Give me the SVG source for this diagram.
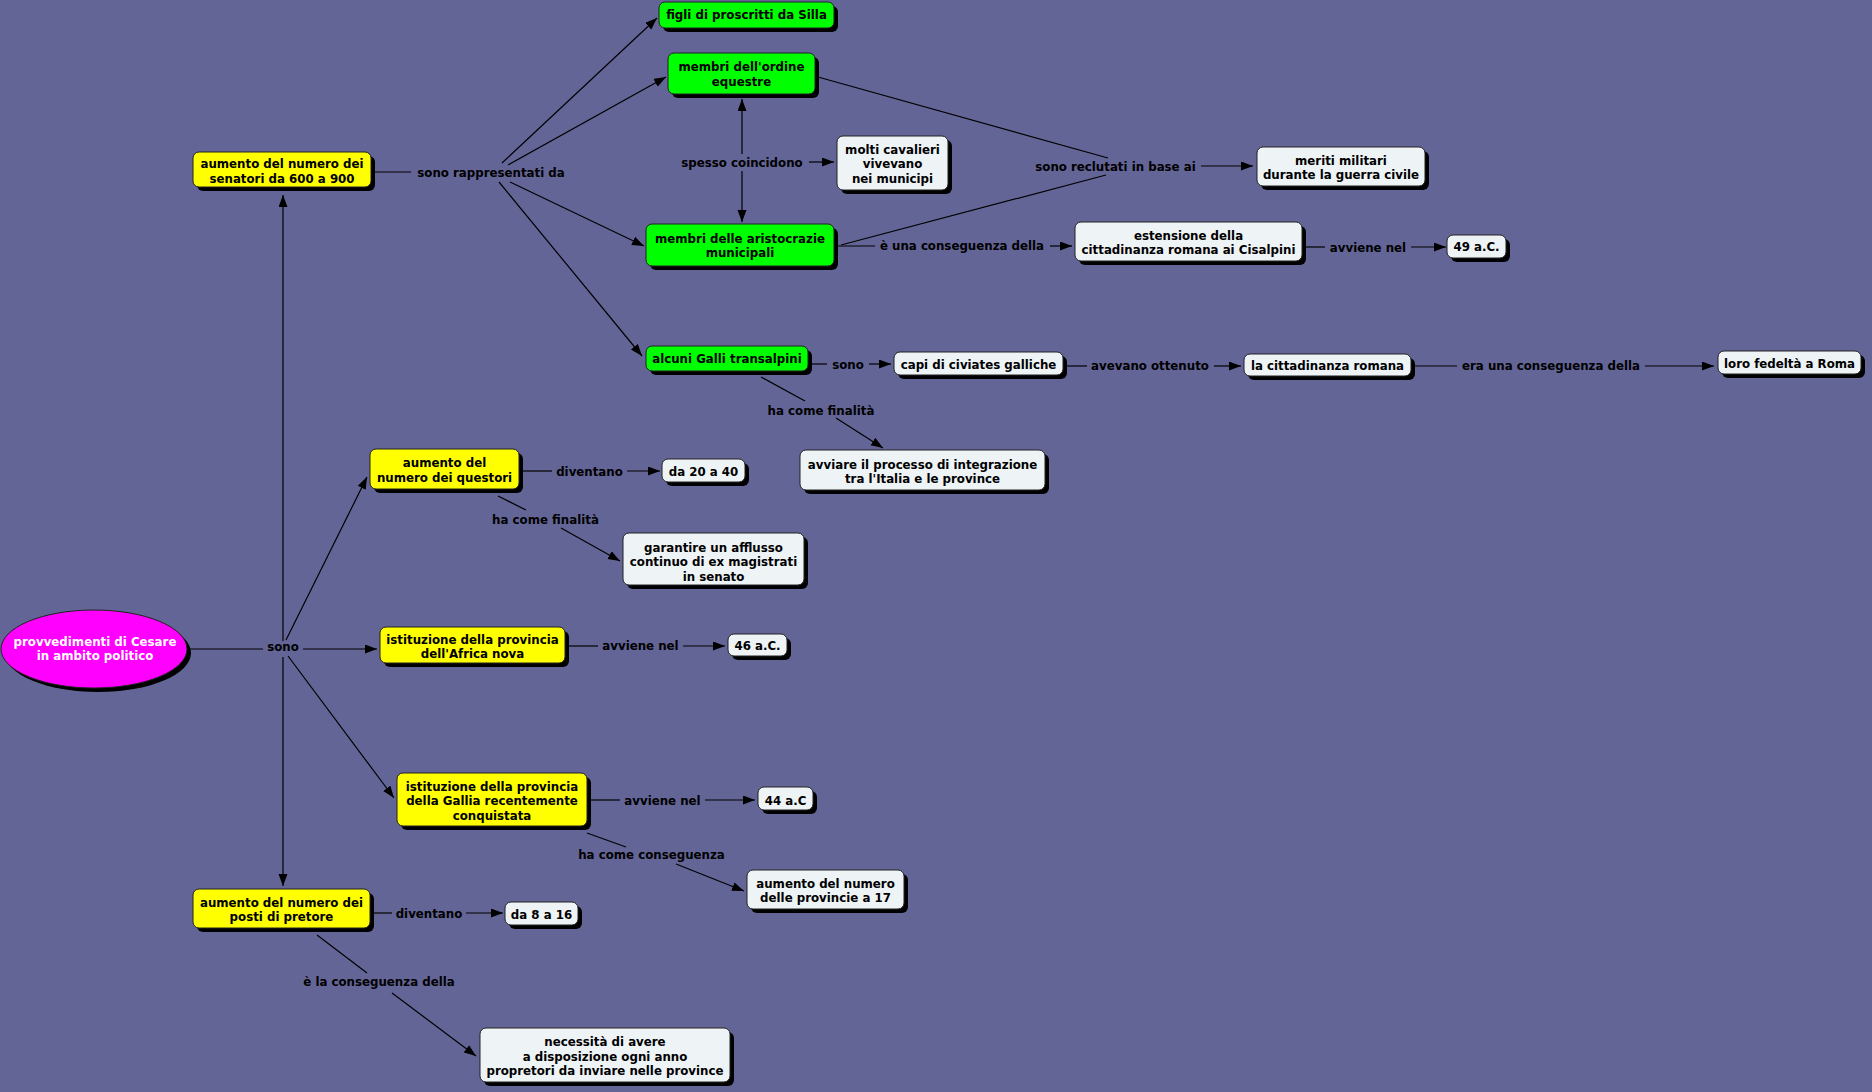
<svg xmlns="http://www.w3.org/2000/svg" width="1872" height="1092" viewBox="0 0 1872 1092">
<defs>
<style>
.bg{fill:#646597}
.sh{fill:#000}
.g{fill:#00ff00;stroke:#222;stroke-width:1}
.y{fill:#ffff00;stroke:#222;stroke-width:1}
.w{fill:#eef3f6;stroke:#222;stroke-width:1}
.m{fill:#ff00ff;stroke:#222;stroke-width:1}
text{font-family:"DejaVu Sans","Verdana",sans-serif;font-weight:bold;font-size:11.8px;fill:#000;text-anchor:middle}
.wt{fill:#fff}
.c line{stroke:#000;stroke-width:1.2;fill:none}
.a{marker-end:url(#ah)}
</style>
<marker id="ah" markerUnits="userSpaceOnUse" markerWidth="13" markerHeight="10" refX="12" refY="4.5" orient="auto" viewBox="0 0 13 10">
<path d="M0,0 L12,4.5 L0,9 z" fill="#000"/>
</marker>
</defs>
<rect class="bg" x="0" y="0" width="1872" height="1092"/>

<g id="connectors" class="c">
<line x1="190" y1="649" x2="263" y2="649"/>
<line class="a" x1="283" y1="641" x2="283" y2="195"/>
<line class="a" x1="283" y1="657" x2="283" y2="886"/>
<line class="a" x1="286" y1="640" x2="367" y2="477"/>
<line class="a" x1="303" y1="649" x2="377" y2="649"/>
<line class="a" x1="288" y1="656" x2="394" y2="798"/>
<line x1="375" y1="172" x2="411" y2="172"/>
<line class="a" x1="502" y1="163" x2="657" y2="18"/>
<line class="a" x1="508" y1="165" x2="666" y2="77"/>
<line class="a" x1="510" y1="182" x2="644" y2="246"/>
<line class="a" x1="499" y1="182" x2="642" y2="356"/>
<line class="a" x1="742" y1="154" x2="742" y2="99"/>
<line class="a" x1="742" y1="171" x2="742" y2="222"/>
<line class="a" x1="809" y1="162" x2="834" y2="162"/>
<line x1="818" y1="77" x2="1108" y2="158"/>
<line x1="841" y1="245" x2="1106" y2="175"/>
<line class="a" x1="1201" y1="166" x2="1253" y2="166"/>
<line x1="838" y1="246" x2="875" y2="246"/>
<line class="a" x1="1050" y1="246" x2="1072" y2="246"/>
<line x1="1305" y1="247" x2="1325" y2="247"/>
<line class="a" x1="1411" y1="247" x2="1446" y2="247"/>
<line x1="812" y1="364" x2="827" y2="364"/>
<line class="a" x1="869" y1="364" x2="891" y2="364"/>
<line x1="1066" y1="366" x2="1087" y2="366"/>
<line class="a" x1="1214" y1="366" x2="1241" y2="366"/>
<line x1="1415" y1="366" x2="1457" y2="366"/>
<line class="a" x1="1645" y1="366" x2="1714" y2="366"/>
<line x1="761" y1="377" x2="805" y2="401"/>
<line class="a" x1="836" y1="418" x2="883" y2="448"/>
<line x1="522" y1="471" x2="552" y2="471"/>
<line class="a" x1="627" y1="471" x2="660" y2="471"/>
<line x1="498" y1="496" x2="526" y2="510"/>
<line class="a" x1="561" y1="528" x2="620" y2="561"/>
<line x1="568" y1="646" x2="598" y2="646"/>
<line class="a" x1="683" y1="646" x2="725" y2="646"/>
<line x1="590" y1="800" x2="620" y2="800"/>
<line class="a" x1="705" y1="800" x2="755" y2="800"/>
<line x1="587" y1="833" x2="626" y2="847"/>
<line class="a" x1="676" y1="864" x2="744" y2="891"/>
<line x1="373" y1="913" x2="392" y2="913"/>
<line class="a" x1="466" y1="913" x2="503" y2="913"/>
<line x1="317" y1="935" x2="367" y2="973"/>
<line class="a" x1="392" y1="993" x2="476" y2="1056"/>
</g>

<g id="labels">
<text x="491" y="176.5">sono rappresentati da</text>
<text x="742" y="166.5">spesso coincidono</text>
<text x="1115.5" y="170.5">sono reclutati in base ai</text>
<text x="962" y="250">è una conseguenza della</text>
<text x="1368" y="251.5">avviene nel</text>
<text x="848" y="368.5">sono</text>
<text x="1150" y="370">avevano ottenuto</text>
<text x="1551" y="369.5">era una conseguenza della</text>
<text x="821" y="414.5">ha come finalità</text>
<text x="589.5" y="475.5">diventano</text>
<text x="545.5" y="523.5">ha come finalità</text>
<text x="283" y="650.5">sono</text>
<text x="640.5" y="649.5">avviene nel</text>
<text x="662.5" y="804.5">avviene nel</text>
<text x="651.5" y="858.5">ha come conseguenza</text>
<text x="429" y="917.5">diventano</text>
<text x="379" y="986">è la conseguenza della</text>
</g>

<g id="n-root">
<ellipse class="sh" cx="98" cy="653" rx="93" ry="39"/>
<ellipse class="m" cx="94" cy="649" rx="93" ry="39"/>
<text class="wt" x="95" y="646">provvedimenti di Cesare</text>
<text class="wt" x="95" y="660">in ambito politico</text>
</g>

<g id="n-figli">
<rect class="sh" x="663" y="6" width="175" height="26" rx="6"/>
<rect class="g" x="659" y="2" width="175" height="26" rx="6"/>
<text x="746.5" y="19">figli di proscritti da Silla</text>
</g>

<g id="n-ordine">
<rect class="sh" x="672" y="57" width="147" height="41" rx="6"/>
<rect class="g" x="668" y="53" width="147" height="41" rx="6"/>
<text x="741.5" y="71">membri dell'ordine</text>
<text x="741.5" y="85.5">equestre</text>
</g>

<g id="n-senatori">
<rect class="sh" x="197" y="156" width="178" height="35" rx="6"/>
<rect class="y" x="193" y="152" width="178" height="35" rx="6"/>
<text x="282" y="168">aumento del numero dei</text>
<text x="282" y="182.5">senatori da 600 a 900</text>
</g>

<g id="n-cavalieri">
<rect class="sh" x="841" y="140" width="111" height="54" rx="6"/>
<rect class="w" x="837" y="136" width="111" height="54" rx="6"/>
<text x="892.5" y="153.5">molti cavalieri</text>
<text x="892.5" y="168">vivevano</text>
<text x="892.5" y="182.5">nei municipi</text>
</g>

<g id="n-aristocrazie">
<rect class="sh" x="650" y="228" width="188" height="42" rx="6"/>
<rect class="g" x="646" y="224" width="188" height="42" rx="6"/>
<text x="740" y="242.5">membri delle aristocrazie</text>
<text x="740" y="257">municipali</text>
</g>

<g id="n-galli">
<rect class="sh" x="650" y="350" width="162" height="25" rx="6"/>
<rect class="g" x="646" y="346" width="162" height="25" rx="6"/>
<text x="727" y="362.5">alcuni Galli transalpini</text>
</g>

<g id="n-meriti">
<rect class="sh" x="1261" y="151" width="168" height="39" rx="6"/>
<rect class="w" x="1257" y="147" width="168" height="39" rx="6"/>
<text x="1341" y="164.5">meriti militari</text>
<text x="1341" y="179">durante la guerra civile</text>
</g>

<g id="n-estensione">
<rect class="sh" x="1079" y="226" width="227" height="39" rx="6"/>
<rect class="w" x="1075" y="222" width="227" height="39" rx="6"/>
<text x="1188.5" y="239.5">estensione della</text>
<text x="1188.5" y="254">cittadinanza romana ai Cisalpini</text>
</g>

<g id="n-49">
<rect class="sh" x="1451" y="239" width="59" height="23" rx="6"/>
<rect class="w" x="1447" y="235" width="59" height="23" rx="6"/>
<text x="1476.5" y="251">49 a.C.</text>
</g>

<g id="n-capi">
<rect class="sh" x="898" y="356" width="169" height="23" rx="6"/>
<rect class="w" x="894" y="352" width="169" height="23" rx="6"/>
<text x="978.5" y="368.5">capi di civiates galliche</text>
</g>

<g id="n-cittadinanza">
<rect class="sh" x="1248" y="358" width="167" height="22" rx="6"/>
<rect class="w" x="1244" y="354" width="167" height="22" rx="6"/>
<text x="1327.5" y="370">la cittadinanza romana</text>
</g>

<g id="n-fedelta">
<rect class="sh" x="1722" y="355" width="143" height="23" rx="6"/>
<rect class="w" x="1718" y="351" width="143" height="23" rx="6"/>
<text x="1789.5" y="367.5">loro fedeltà a Roma</text>
</g>

<g id="n-avviare">
<rect class="sh" x="804" y="454" width="245" height="40" rx="6"/>
<rect class="w" x="800" y="450" width="245" height="40" rx="6"/>
<text x="922.5" y="468.5">avviare il processo di integrazione</text>
<text x="922.5" y="483">tra l'Italia e le province</text>
</g>

<g id="n-questori">
<rect class="sh" x="374" y="453" width="149" height="40" rx="6"/>
<rect class="y" x="370" y="449" width="149" height="40" rx="6"/>
<text x="444.5" y="467">aumento del</text>
<text x="444.5" y="481.5">numero dei questori</text>
</g>

<g id="n-da20">
<rect class="sh" x="666" y="463" width="83" height="23" rx="6"/>
<rect class="w" x="662" y="459" width="83" height="23" rx="6"/>
<text x="703.5" y="475.5">da 20 a 40</text>
</g>

<g id="n-garantire">
<rect class="sh" x="627" y="537" width="181" height="52" rx="6"/>
<rect class="w" x="623" y="533" width="181" height="52" rx="6"/>
<text x="713.5" y="551.5">garantire un afflusso</text>
<text x="713.5" y="566">continuo di ex magistrati</text>
<text x="713.5" y="580.5">in senato</text>
</g>

<g id="n-africa">
<rect class="sh" x="384" y="631" width="185" height="36" rx="6"/>
<rect class="y" x="380" y="627" width="185" height="36" rx="6"/>
<text x="472.5" y="643.5">istituzione della provincia</text>
<text x="472.5" y="658">dell'Africa nova</text>
</g>

<g id="n-46">
<rect class="sh" x="732" y="638" width="59" height="22" rx="6"/>
<rect class="w" x="728" y="634" width="59" height="22" rx="6"/>
<text x="757.5" y="650">46 a.C.</text>
</g>

<g id="n-gallia">
<rect class="sh" x="401" y="777" width="190" height="53" rx="6"/>
<rect class="y" x="397" y="773" width="190" height="53" rx="6"/>
<text x="492" y="790.5">istituzione della provincia</text>
<text x="492" y="805">della Gallia recentemente</text>
<text x="492" y="819.5">conquistata</text>
</g>

<g id="n-44">
<rect class="sh" x="762" y="791" width="55" height="23" rx="6"/>
<rect class="w" x="758" y="787" width="55" height="23" rx="6"/>
<text x="785.5" y="804.5">44 a.C</text>
</g>

<g id="n-province">
<rect class="sh" x="751" y="874" width="157" height="39" rx="6"/>
<rect class="w" x="747" y="870" width="157" height="39" rx="6"/>
<text x="825.5" y="887.5">aumento del numero</text>
<text x="825.5" y="902">delle provincie a 17</text>
</g>

<g id="n-pretore">
<rect class="sh" x="197" y="893" width="177" height="39" rx="6"/>
<rect class="y" x="193" y="889" width="177" height="39" rx="6"/>
<text x="281.5" y="906.5">aumento del numero dei</text>
<text x="281.5" y="921">posti di pretore</text>
</g>

<g id="n-da8">
<rect class="sh" x="509" y="906" width="73" height="23" rx="6"/>
<rect class="w" x="505" y="902" width="73" height="23" rx="6"/>
<text x="541.5" y="919">da 8 a 16</text>
</g>

<g id="n-necessita">
<rect class="sh" x="484" y="1032" width="250" height="54" rx="6"/>
<rect class="w" x="480" y="1028" width="250" height="54" rx="6"/>
<text x="605" y="1046">necessità di avere</text>
<text x="605" y="1060.5">a disposizione ogni anno</text>
<text x="605" y="1075">propretori da inviare nelle province</text>
</g>
</svg>
